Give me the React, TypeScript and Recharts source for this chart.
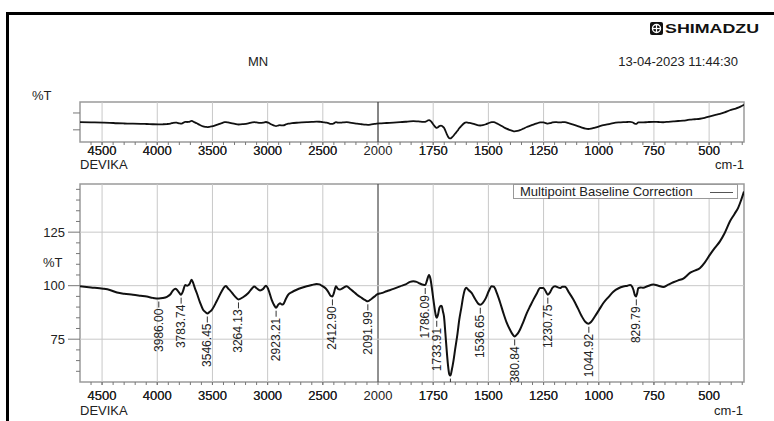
import React from "react";
import {
  ComposedChart,
  Line,
  XAxis,
  YAxis,
  ReferenceLine,
  ReferenceArea,
  Legend,
} from "recharts";

// spectrum (cm-1, %T)
const WAVENUMBER = [
  4700, 4600, 4490, 4430, 4365, 4300, 4220, 4150, 4095, 4040, 3986, 3950, 3912, 3880, 3857, 3835, 3820, 3800,
  3784, 3770, 3746, 3730, 3719, 3705, 3690, 3680, 3673, 3660, 3643, 3613, 3585, 3560, 3546, 3525, 3507, 3462,
  3416, 3390, 3377, 3360, 3341, 3296, 3264, 3220, 3175, 3140, 3121, 3100, 3069, 3040, 3015, 2994, 2964, 2940,
  2924, 2905, 2888, 2870, 2858, 2835, 2813, 2780, 2737, 2690, 2646, 2600, 2556, 2530, 2510, 2485, 2465, 2445,
  2429, 2413, 2400, 2381, 2365, 2345, 2320, 2284, 2255, 2224, 2190, 2148, 2115, 2092, 2060, 2030, 2012, 1985,
  1961, 1930, 1900, 1875, 1855, 1840, 1825, 1810, 1795, 1786, 1778, 1769, 1762, 1757, 1751, 1745, 1738, 1734,
  1728, 1722, 1715, 1711, 1706, 1701, 1695, 1689, 1683, 1677, 1672, 1666, 1658, 1651, 1640, 1632, 1622, 1614,
  1605, 1600, 1590, 1576, 1560, 1545, 1537, 1525, 1511, 1498, 1485, 1475, 1462, 1448, 1432, 1418, 1402, 1390,
  1381, 1368, 1357, 1342, 1326, 1310, 1296, 1280, 1266, 1251, 1240, 1231, 1220, 1210, 1198, 1185, 1175, 1165,
  1153, 1135, 1115, 1095, 1077, 1060, 1047, 1035, 1017, 998, 979, 955, 934, 910, 889, 870, 858, 848, 843, 836,
  831, 826, 821, 810, 798, 780, 753, 730, 708, 685, 662, 640, 617, 600, 587, 565, 541, 520, 496, 475, 451, 430,
  406, 385, 368, 355, 342,
];
const TRANSMITTANCE = [
  99.7, 99.2, 98.6, 98.0, 96.8, 96.2, 95.8, 95.3, 94.9, 94.3, 94.0, 94.2, 94.8, 96.0, 97.8, 98.6, 98.0, 96.6,
  95.8, 97.0, 100.3, 100.0, 100.2, 101.0, 102.8, 102.0, 101.0, 99.0, 96.7, 92.2, 88.8, 87.5, 87.0, 87.8, 88.6, 92.7,
  97.4, 99.5, 99.8, 98.8, 97.8, 95.0, 93.6, 94.7, 96.6, 98.8, 99.6, 98.8, 97.8, 98.5, 100.0, 98.3, 93.5, 90.8,
  89.7, 91.0, 91.8, 91.2, 91.4, 93.8, 95.8, 97.0, 98.1, 99.0, 99.7, 100.3, 100.8, 100.6, 100.0, 99.2, 98.2, 96.6,
  95.2, 95.0, 96.5, 99.7, 98.6, 98.2, 98.8, 99.7, 98.6, 97.3, 95.8, 94.3, 93.2, 92.7, 93.8, 95.0, 95.8, 96.5,
  97.4, 98.5, 99.7, 100.6, 101.8, 102.1, 101.8, 101.0, 100.4, 100.3, 102.5, 105.0, 103.0, 99.7, 95.0, 90.4, 86.0, 85.0,
  86.5, 89.6, 90.6, 90.4, 88.0, 85.5, 78.0, 70.0, 63.0, 58.6, 58.0, 60.5, 65.0, 70.0, 77.5, 84.0, 90.0, 95.0,
  98.5, 99.0, 98.0, 96.6, 93.8, 91.5, 91.1, 92.0, 94.3, 97.5, 99.7, 99.5, 96.6, 92.5, 87.2, 83.0, 79.4, 77.2,
  76.3, 77.5, 79.4, 83.0, 87.2, 90.6, 93.5, 96.5, 98.9, 98.9, 97.3, 95.8, 97.0, 99.0, 99.7, 99.2, 98.9, 99.5,
  99.5, 96.8, 93.5, 89.5, 85.7, 83.0, 82.2, 83.0, 85.7, 88.8, 91.9, 94.8, 97.2, 98.8, 99.6, 100.0, 100.3, 99.4, 98.1, 95.5,
  95.0, 96.5, 98.9, 99.2, 99.0, 99.7, 100.5, 100.0, 99.4, 100.5, 101.6, 102.5, 103.3, 104.8, 106.0, 107.0, 108.3, 110.8, 114.5, 117.5, 120.7, 124.5,
  130.0, 133.5, 136.5, 140.0, 144.0,
];

// peak picks
const PEAK_WAVENUMBER = [3986, 3783.74, 3546.45, 3264.13, 2923.21, 2412.9, 2091.99, 1786.09, 1733.91, 1672, 1536.65, 1380.84, 1230.75, 1044.92, 829.79];
const PEAK_T = [94.0, 95.8, 87.0, 93.6, 89.7, 95.0, 92.7, 100.3, 85.0, 58.0, 91.1, 76.3, 95.8, 82.2, 95.0];
const PEAK_LABEL = ["3986.00", "3783.74", "3546.45", "3264.13", "2923.21", "2412.90", "2091.99", "1786.09", "1733.91", "", "1536.65", "380.84", "1230.75", "1044.92", "829.79"];

const MAJOR_X = [4500, 4000, 3500, 3000, 2500, 2000, 1750, 1500, 1250, 1000, 750, 500];
const MAIN_Y_TICKS = [125, 100, 75];
const X_END_WN = 342;

const FONT = '"Liberation Sans", Arial, sans-serif';
const GRID = "#c8c8c8";
const FRAME = "#9a9a9a";

// the axis is stretched 2x below 2000 cm-1
const toU = (w: number) => (w >= 2000 ? (4700 - w) / 500 : 5.4 + (2000 - w) / 250);
const fromU = (u: number) => Math.round(u <= 5.4 ? 4700 - u * 500 : 2000 - (u - 5.4) * 250);
const X_END = toU(X_END_WN);

const minorX: number[] = [];
for (let w = 4600; w > 2000; w -= 100) minorX.push(w);
for (let w = 1950; w >= 350; w -= 50) minorX.push(w);
const X_TICKS = [...MAJOR_X, ...minorX].map(toU).sort((a, b) => a - b);

const yMinor: number[] = [];
for (let v = 60; v <= 145; v += 5) yMinor.push(v);

const spectrum = WAVENUMBER.map((w, i) => ({ w, t: TRANSMITTANCE[i] }));
const peaks = PEAK_WAVENUMBER.map((w, i) => ({ w, t: PEAK_T[i], label: PEAK_LABEL[i] }));

const xKey = (d: { w: number }) => toU(d.w);

const makeXTick = (gap: number) => (props: any) => {
  const { x, y, payload } = props;
  const w = fromU(payload.value);
  return (
    <g>
      <line x1={x} x2={x} y1={y} y2={y + 3} stroke="#777" />
      {MAJOR_X.includes(w) && (
        <text x={x} y={y + gap} dy="0.71em" textAnchor="middle" fontSize={13} fontFamily={FONT} fill="#222">
          {w}
        </text>
      )}
    </g>
  );
};

const mainYTick = (props: any) => {
  const { x, y, payload } = props;
  const major = MAIN_Y_TICKS.includes(payload.value);
  return (
    <g>
      <line x1={x - (major ? 12 : 4)} x2={x} y1={y} y2={y} stroke="#777" />
      {major && (
        <text x={x - 15} y={y} dy="0.35em" textAnchor="end" fontSize={13} fontFamily={FONT} fill="#222">
          {payload.value}
        </text>
      )}
    </g>
  );
};

const topYTick = (props: any) => {
  const { x, y } = props;
  return <line x1={x - 7} x2={x} y1={y} y2={y} stroke="#777" />;
};

const renderPeak = (props: any) => {
  const { cx, cy, payload, index } = props;
  const y0 = cy + 10;
  return (
    <g key={`pk-${index}`}>
      <line x1={cx} x2={cx} y1={cy + 3} y2={cy + 9} stroke="#333" />
      {payload.label && (
        <text
          x={cx}
          y={y0}
          transform={`rotate(-90 ${cx} ${y0})`}
          textAnchor="end"
          dominantBaseline="central"
          fontSize={12}
          fontFamily={FONT}
          fill="#222"
        >
          {payload.label}
        </text>
      )}
    </g>
  );
};

const LegendBox = () => (
  <div
    style={{
      boxSizing: "border-box",
      width: 225,
      height: 15,
      border: "1px solid #999",
      background: "#fff",
      fontSize: 13,
      lineHeight: "13px",
      fontFamily: FONT,
      color: "#222",
      paddingLeft: 6,
      position: "relative",
      whiteSpace: "nowrap",
    }}
  >
    Multipoint Baseline Correction
    <span style={{ position: "absolute", left: 196, top: 7, width: 23, borderTop: "1px solid #555" }} />
  </div>
);

const gridLines = (dark: string) =>
  MAJOR_X.map((w) => (
    <ReferenceLine key={w} x={toU(w)} stroke={w === 2000 ? dark : GRID} strokeWidth={w === 2000 ? 1.3 : 1} />
  ));

const txt = (s: string, style: React.CSSProperties) => (
  <div style={{ position: "absolute", fontSize: 13, lineHeight: "15px", whiteSpace: "nowrap", ...style }}>{s}</div>
);

export default function App() {
  return (
    <div
      style={{
        position: "absolute",
        left: 0,
        top: 0,
        width: 774,
        height: 421,
        background: "#fff",
        overflow: "hidden",
        fontFamily: FONT,
        color: "#222",
      }}
    >
      <div
        style={{
          position: "absolute",
          left: 6,
          top: 12,
          width: 800,
          height: 420,
          borderTop: "3px solid #000",
          borderLeft: "3px solid #000",
        }}
      />

      {/* header */}
      <div style={{ position: "absolute", left: 650, top: 22, display: "flex", alignItems: "center" }}>
        <svg width={13} height={13}>
          <rect x={0} y={0} width={13} height={13} rx={2} fill="#111" />
          <circle cx={6.5} cy={6.5} r={4} fill="none" stroke="#fff" strokeWidth={1.4} />
          <line x1={2.5} x2={10.5} y1={6.5} y2={6.5} stroke="#fff" strokeWidth={1.2} />
          <line x1={6.5} x2={6.5} y1={2.5} y2={10.5} stroke="#fff" strokeWidth={1.2} />
        </svg>
        <span
          style={{
            marginLeft: 2,
            fontSize: 13,
            fontWeight: 700,
            lineHeight: "13px",
            display: "inline-block",
            transform: "scaleX(1.37)",
            transformOrigin: "left center",
            color: "#111",
          }}
        >
          SHIMADZU
        </span>
      </div>
      {txt("MN", { left: 248, top: 54 })}
      {txt("13-04-2023 11:44:30", { right: 774 - 738, top: 54 })}
      {txt("%T", { left: 32, top: 88 })}

      {/* overview */}
      <div style={{ position: "absolute", left: 0, top: 95 }}>
        <ComposedChart width={774} height={70} data={spectrum} margin={{ top: 7, right: 30, bottom: 0, left: 0 }}>
          <XAxis
            type="number"
            dataKey={xKey}
            domain={[0, X_END]}
            allowDataOverflow
            ticks={X_TICKS}
            interval={0}
            tickSize={0}
            tickMargin={0}
            tickLine={false}
            axisLine={false}
            height={23}
            tick={makeXTick(4)}
          />
          <YAxis
            type="number"
            domain={[49, 151]}
            allowDataOverflow
            ticks={[80, 123]}
            interval={0}
            tickSize={0}
            tickMargin={0}
            tickLine={false}
            axisLine={false}
            width={80}
            tick={topYTick}
          />
          {gridLines("#444")}
          <ReferenceArea x1={0} x2={X_END} y1={49} y2={151} fill="none" stroke={FRAME} strokeWidth={1.5} />
          <Line type="monotoneX" dataKey="t" stroke="#111" strokeWidth={1.8} dot={false} isAnimationActive={false} />
        </ComposedChart>
      </div>
      {txt("DEVIKA", { left: 80, top: 159, lineHeight: "11px" })}
      {txt("cm-1", { right: 774 - 744, top: 159, lineHeight: "11px" })}

      {/* baseline corrected */}
      <div style={{ position: "absolute", left: 0, top: 170 }}>
        <ComposedChart width={774} height={251} data={spectrum} margin={{ top: 14, right: 30, bottom: 0, left: 0 }}>
          <XAxis
            type="number"
            dataKey={xKey}
            domain={[0, X_END]}
            allowDataOverflow
            ticks={X_TICKS}
            interval={0}
            tickSize={0}
            tickMargin={0}
            tickLine={false}
            axisLine={false}
            height={39}
            tick={makeXTick(9)}
          />
          <YAxis
            type="number"
            domain={[55, 147.5]}
            allowDataOverflow
            ticks={yMinor}
            interval={0}
            tickSize={0}
            tickMargin={0}
            tickLine={false}
            axisLine={false}
            width={80}
            tick={mainYTick}
          />
          {gridLines("#555")}
          {MAIN_Y_TICKS.map((v) => (
            <ReferenceLine key={v} y={v} stroke={GRID} />
          ))}
          <ReferenceArea x1={0} x2={X_END} y1={55} y2={147.5} fill="none" stroke={FRAME} strokeWidth={1.5} />
          <Line type="monotoneX" dataKey="t" stroke="#111" strokeWidth={2} dot={false} isAnimationActive={false} legendType="none" />
          <Line
            data={peaks}
            dataKey="t"
            stroke="none"
            dot={renderPeak}
            activeDot={false}
            isAnimationActive={false}
            legendType="none"
          />
          <Legend
            layout="horizontal"
            verticalAlign="middle"
            align="center"
            content={() => <LegendBox />}
            wrapperStyle={{ top: 14, left: 513, width: 225, height: 15 }}
          />
        </ComposedChart>
      </div>
      {txt("%T", { left: 43, top: 255 })}
      {txt("DEVIKA", { left: 80, top: 405, lineHeight: "11px" })}
      {txt("cm-1", { right: 774 - 743, top: 405, lineHeight: "11px" })}
    </div>
  );
}
